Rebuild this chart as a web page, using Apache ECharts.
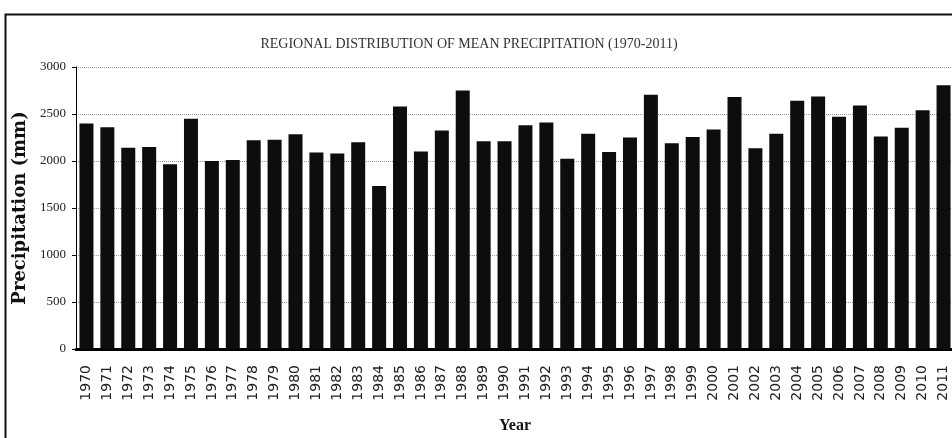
<!DOCTYPE html>
<html><head><meta charset="utf-8">
<script src="https://cdn.jsdelivr.net/npm/echarts@6/dist/echarts.min.js"></script>
<style>html,body{margin:0;padding:0;background:#fff}#c{width:952px;height:438px}</style>
</head><body><div id="c"></div>
<script>
const years = [];
for (let y = 1970; y <= 2011; y++) years.push(String(y));
const precipitation = [
  2400, 2360, 2140, 2150, 1965, 2450, 2000, 2010, 2220, 2225,
  2285, 2090, 2080, 2200, 1735, 2580, 2100, 2325, 2750, 2210,
  2210, 2380, 2410, 2025, 2290, 2095, 2250, 2705, 2190, 2255,
  2335, 2680, 2135, 2290, 2640, 2685, 2470, 2590, 2260, 2355,
  2540, 2805
];
const yTicks = [0, 500, 1000, 1500, 2000, 2500, 3000];

const chart = echarts.init(document.getElementById('c'));
chart.setOption({
  backgroundColor: '#fff',
  animation: false,
  title: {
    text: 'REGIONAL DISTRIBUTION OF MEAN PRECIPITATION (1970-2011)',
    left: 464, top: 32, textAlign: 'center',
    textStyle: { fontFamily: 'Liberation Serif', fontSize: 14, fontWeight: 'normal', color: '#333' }
  },
  graphic: [{
    type: 'rect', shape: { x: 5.5, y: 14.5, width: 960, height: 430 },
    style: { fill: 'none', stroke: '#111', lineWidth: 2 }
  }],
  grid: { left: 76, right: -2, top: 67, bottom: 89, containLabel: false, outerBoundsMode: 'none' },
  xAxis: {
    type: 'category', data: years,
    name: 'Year', nameLocation: 'middle', nameGap: 69,
    nameTextStyle: { fontFamily: 'Liberation Serif', fontWeight: 'bold', fontSize: 16, color: '#111' },
    axisLine: { lineStyle: { color: '#000', width: 3 } },
    axisTick: { interval: 9, length: 5, lineStyle: { color: '#000', width: 1 } },
    axisLabel: { interval: 0, rotate: 90, fontFamily: 'DejaVu Sans', fontSize: 14, color: '#222', margin: 16 }
  },
  yAxis: {
    type: 'value', min: 0, max: 3000, interval: 500,
    name: 'Precipitation (mm)', nameLocation: 'middle', nameGap: 46,
    nameTextStyle: { fontFamily: 'DejaVu Serif', fontWeight: 'bold', fontSize: 18, color: '#111' },
    axisLine: { show: true, lineStyle: { color: '#000', width: 1 } },
    axisTick: { show: true, length: 4, lineStyle: { color: '#000' } },
    axisLabel: { fontFamily: 'Liberation Serif', fontSize: 13, color: '#222', margin: 10,
      formatter: v => yTicks.includes(v) ? String(v) : '' },
    splitLine: { show: true, lineStyle: { color: '#999', type: 'dotted', width: 1 } }
  },
  series: [{
    type: 'bar', data: precipitation, barWidth: 14,
    itemStyle: { color: '#0d0d0d' }
  }]
});
</script></body></html>
